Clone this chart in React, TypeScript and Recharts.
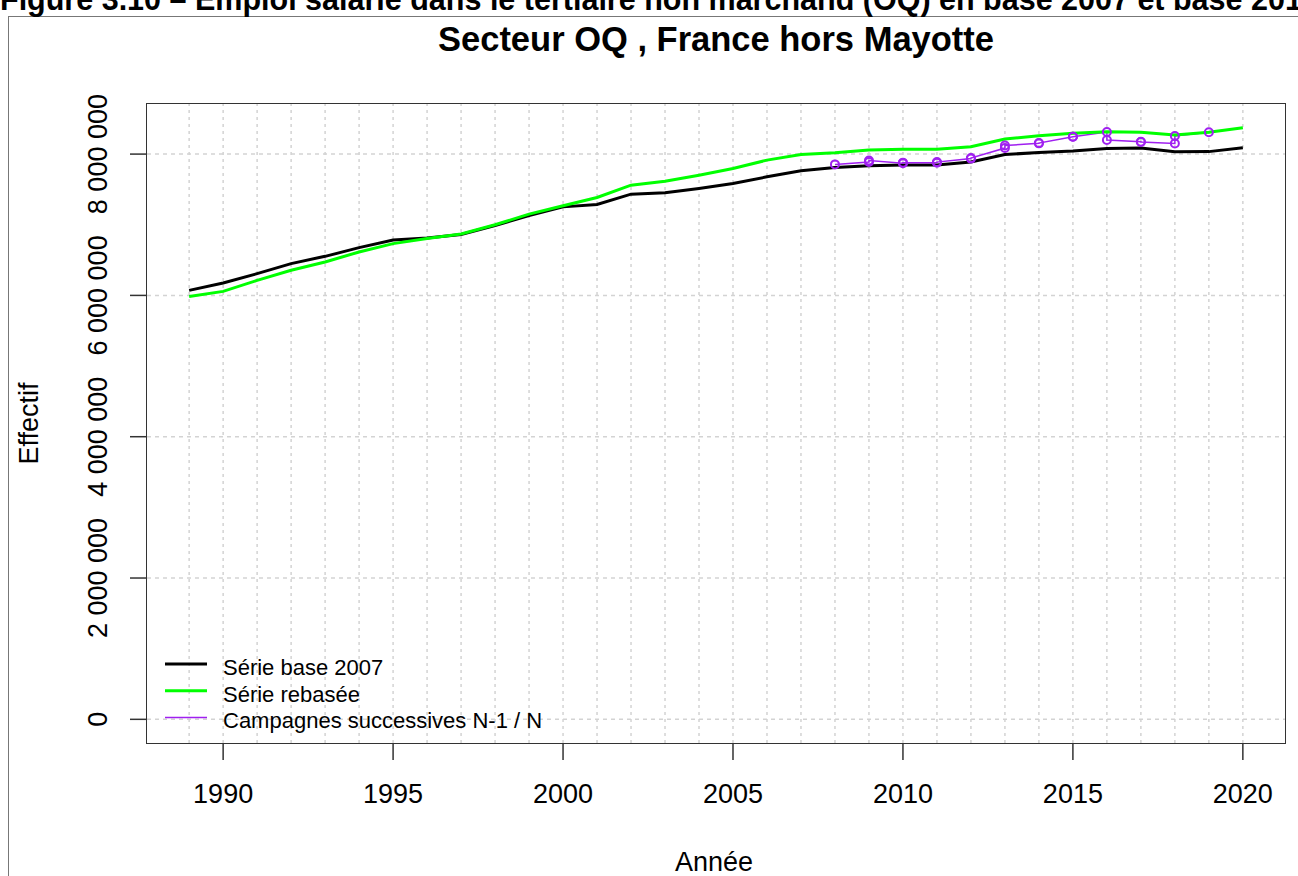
import React from "react";
import { LineChart, Line, XAxis, YAxis, ReferenceLine, Legend } from "recharts";

const years = [
  1989, 1990, 1991, 1992, 1993, 1994, 1995, 1996, 1997, 1998, 1999, 2000, 2001, 2002, 2003, 2004,
  2005, 2006, 2007, 2008, 2009, 2010, 2011, 2012, 2013, 2014, 2015, 2016, 2017, 2018, 2019, 2020,
];
// Série base 2007
const base2007 = [
  6071000, 6175000, 6308000, 6450000, 6553000, 6676000, 6785000, 6812000, 6862000, 6990000, 7130000,
  7253000, 7286000, 7433000, 7452000, 7513000, 7584000, 7678000, 7763000, 7810000, 7835000, 7844000,
  7844000, 7887000, 7993000, 8024000, 8043000, 8078000, 8085000, 8033000, 8035000, 8090000,
];
// Série rebasée
const rebased = [
  5986000, 6057000, 6213000, 6355000, 6473000, 6615000, 6733000, 6804000, 6870000, 7000000, 7150000,
  7270000, 7386000, 7560000, 7617000, 7702000, 7797000, 7915000, 7995000, 8020000, 8057000, 8067000,
  8067000, 8104000, 8213000, 8260000, 8294000, 8316000, 8308000, 8270000, 8308000, 8374000,
];
// Campagnes successives : valeur N-1 et valeur N de chaque campagne
const campaignYears = [2008, 2009, 2010, 2011, 2012, 2013, 2014, 2015, 2016, 2017, 2018];
const campaignPrev = [
  7854000, 7908000, 7879000, 7887000, 7943000, 8121000, 8156000, 8245000, 8199000, 8170000, 8255000,
];
const campaignCurr = [
  7887000, 7872000, 7879000, 7936000, 8085000, 8152000, 8245000, 8312000, 8174000, 8149000, 8308000,
];

const xTicks = [1990, 1995, 2000, 2005, 2010, 2015, 2020];
const yTicks = [0, 2000000, 4000000, 6000000, 8000000];

const legendLabels = ["Série base 2007", "Série rebasée", "Campagnes successives N-1 / N"];

const BLACK = "#000000";
const GREEN = "#00ff00";
const PURPLE = "#a020f0";
const GRID = "#d3d3d3";
const AXIS = "#333333";
const FONT = '"Liberation Sans", Arial, sans-serif';

const W = 1298;
const H = 876;

const mainData = years.map((year, i) => ({ year, base: base2007[i], rebased: rebased[i] }));
// one continuous series: (N-1, N) pairs one after another
const campaignData = campaignYears.flatMap((y, i) => [
  { year: y, value: campaignPrev[i] },
  { year: y + 1, value: campaignCurr[i] },
]);
const legendColors = [BLACK, GREEN, PURPLE];
const legendWidths = [3, 3, 1.5];

const fmt = (v: number) => String(v).replace(/\B(?=(\d{3})+(?!\d))/g, " ");

function YTick({ x, y, payload }: any) {
  return (
    <text
      transform={`translate(${x - 23},${y}) rotate(-90)`}
      textAnchor="middle"
      fontSize={27}
      fontFamily={FONT}
      fill="#000"
    >
      {fmt(payload.value)}
    </text>
  );
}

function XTick({ x, y, payload }: any) {
  return (
    <text x={x} y={y + 43} textAnchor="middle" fontSize={27} fontFamily={FONT} fill="#000">
      {payload.value}
    </text>
  );
}

function LegendBox() {
  return (
    <svg width={420} height={90} style={{ display: "block" }}>
      {legendLabels.map((lab, i) => (
        <g key={lab}>
          <line
            x1={5}
            x2={47}
            y1={14 + i * 26.7}
            y2={14 + i * 26.7}
            stroke={legendColors[i]}
            strokeWidth={legendWidths[i]}
          />
          <text x={63} y={25 + i * 26.7} fontSize={22} fontFamily={FONT} fill="#000">
            {lab}
          </text>
        </g>
      ))}
    </svg>
  );
}

export default function App() {
  return (
    <div
      style={{
        position: "fixed",
        left: 0,
        top: 0,
        width: W,
        height: H,
        background: "#fff",
        overflow: "hidden",
        fontFamily: FONT,
      }}
    >
      {/* outer frame of the figure */}
      <div
        style={{
          position: "absolute",
          left: 8,
          top: 16,
          width: W,
          height: H,
          borderLeft: "1.5px solid #777",
          borderTop: "1.5px solid #777",
        }}
      />
      <svg width={W} height={60} style={{ position: "absolute", left: 0, top: 0 }}>
        <text x={0} y={10} fontSize={30.5} fontWeight="bold" fontFamily={FONT} fill="#000">
          Figure 3.10 – Emploi salarié dans le tertiaire non marchand (OQ) en base 2007 et base 2015
        </text>
        <text x={716} y={51} textAnchor="middle" fontSize={34.5} fontWeight="bold" fontFamily={FONT} fill="#000">
          Secteur OQ , France hors Mayotte
        </text>
      </svg>
      <div style={{ position: "absolute", left: 0, top: 0 }}>
        <LineChart
          width={W}
          height={H}
          data={mainData}
          margin={{ top: 104, right: 13, bottom: 0, left: 47 }}
        >
          <XAxis
            dataKey="year"
            type="number"
            domain={[1987.76, 2021.24]}
            allowDataOverflow
            ticks={xTicks}
            height={133}
            axisLine={false}
            tickSize={17}
            tickMargin={0}
            tickLine={{ stroke: AXIS, strokeWidth: 1.5 }}
            tick={<XTick />}
            interval={0}
            label={(props: any) => {
              const vb = props.viewBox;
              return (
                <text
                  x={vb.x + vb.width / 2 - 2}
                  y={vb.y + 128}
                  textAnchor="middle"
                  fontSize={27}
                  fontFamily={FONT}
                  fill="#000"
                >
                  Année
                </text>
              );
            }}
          />
          <YAxis
            type="number"
            domain={[-335000, 8709000]}
            allowDataOverflow
            ticks={yTicks}
            width={100}
            axisLine={false}
            tickSize={17}
            tickMargin={0}
            tickLine={{ stroke: AXIS, strokeWidth: 1.5 }}
            tick={<YTick />}
            interval={0}
            label={(props: any) => {
              const vb = props.viewBox;
              const cy = vb.y + vb.height / 2;
              return (
                <text
                  transform={`translate(${vb.x - 9},${cy}) rotate(-90)`}
                  textAnchor="middle"
                  fontSize={27}
                  fontFamily={FONT}
                  fill="#000"
                >
                  Effectif
                </text>
              );
            }}
          />
          {years.map((y) => (
            <ReferenceLine key={`gx${y}`} x={y} stroke={GRID} strokeWidth={1.5} strokeDasharray="3 4" />
          ))}
          {yTicks.map((v) => (
            <ReferenceLine key={`gy${v}`} y={v} stroke={GRID} strokeWidth={1.5} strokeDasharray="4 4" />
          ))}
          <Line
            dataKey="base"
            name="Série base 2007"
            stroke={BLACK}
            strokeWidth={3}
            dot={false}
            type="linear"
            isAnimationActive={false}
          />
          <Line
            data={campaignData}
            dataKey="value"
            name="Campagnes successives N-1 / N"
            stroke={PURPLE}
            strokeWidth={1.5}
            type="linear"
            dot={{ r: 4, stroke: PURPLE, strokeWidth: 2, fill: "none" }}
            isAnimationActive={false}
          />
          <Line
            dataKey="rebased"
            name="Série rebasée"
            stroke={GREEN}
            strokeWidth={3}
            dot={false}
            type="linear"
            isAnimationActive={false}
          />
          <Legend
            layout="vertical"
            align="center"
            verticalAlign="middle"
            content={<LegendBox />}
            wrapperStyle={{ left: 160, top: 650, width: 420, height: 90 }}
          />
        </LineChart>
      </div>
      {/* plot box */}
      <div
        style={{
          position: "absolute",
          left: 146,
          top: 103,
          width: 1140,
          height: 641,
          border: "1.5px solid #333",
          boxSizing: "border-box",
          pointerEvents: "none",
        }}
      />
    </div>
  );
}
